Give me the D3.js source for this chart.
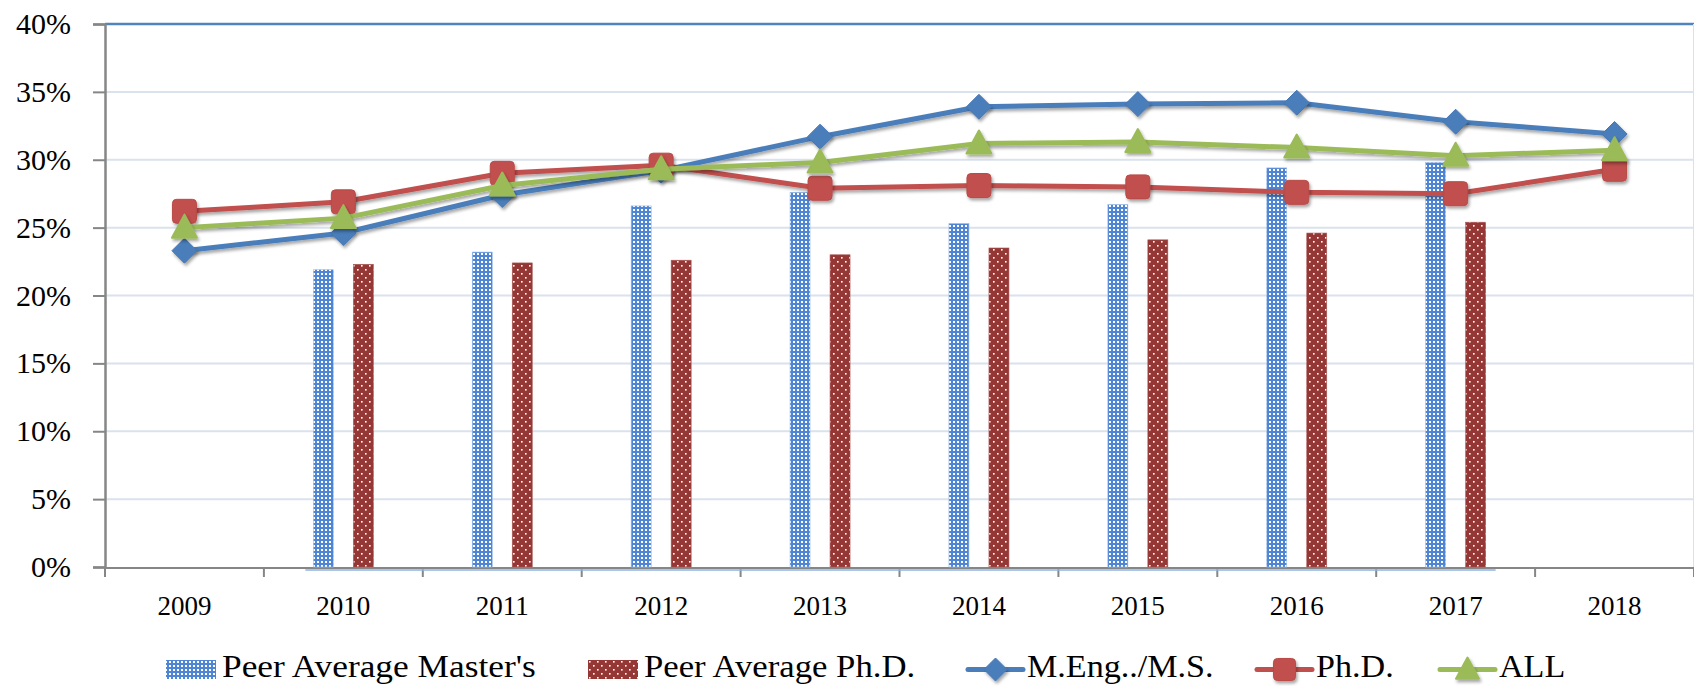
<!DOCTYPE html>
<html>
<head>
<meta charset="utf-8">
<script src="https://cdn.jsdelivr.net/npm/d3@7"></script>
<style>
html,body{margin:0;padding:0;background:#fff;}
svg{display:block;}
.serif{font-family:"Liberation Serif","Times New Roman",serif !important;}
</style>
</head>
<body>
<svg id="chart" width="1694" height="686" font-family="Liberation Serif, Times New Roman, serif"></svg>
<script>
// ---- data ----
const years = ["2009","2010","2011","2012","2013","2014","2015","2016","2017","2018"];
const peerMasters = [null, 21.9, 23.2, 26.6, 27.6, 25.3, 26.7, 29.4, 29.8, null];
const peerPhD     = [null, 22.3, 22.4, 22.6, 23.0, 23.5, 24.1, 24.6, 25.4, null];
const mengMS      = [23.3, 24.6, 27.4, 29.2, 31.7, 33.9, 34.1, 34.2, 32.8, 31.9];
const phdLine     = [26.2, 26.9, 29.0, 29.6, 27.9, 28.1, 28.0, 27.6, 27.5, 29.3];
const allLine     = [25.0, 25.7, 28.1, 29.3, 29.8, 31.2, 31.3, 30.9, 30.3, 30.7];
const yTicks = [0, 5, 10, 15, 20, 25, 30, 35, 40];
const seriesNames = ["Peer Average Master's", "Peer Average Ph.D.", "M.Eng../M.S.", "Ph.D.", "ALL"];

// ---- layout ----
const L = 105, R = 1694, T = 24, B = 567;
const FONT = "Liberation Serif";
const svg = d3.select("#chart");
const defs = svg.append("defs");

// patterns
const pm = defs.append("pattern").attr("id","patM").attr("patternUnits","userSpaceOnUse")
  .attr("width",4).attr("height",4);
pm.append("rect").attr("width",4).attr("height",4).attr("fill","#4f86d4");
pm.append("rect").attr("x",1).attr("y",1).attr("width",2).attr("height",2).attr("fill","#ffffff");

const pp = defs.append("pattern").attr("id","patP").attr("patternUnits","userSpaceOnUse")
  .attr("width",8).attr("height",8);
pp.append("rect").attr("width",8).attr("height",8).attr("fill","#953735");
pp.append("rect").attr("x",1).attr("y",1).attr("width",1.6).attr("height",1.6).attr("fill","#ffffff");
pp.append("rect").attr("x",5).attr("y",5).attr("width",1.6).attr("height",1.6).attr("fill","#ffffff");

const sh = defs.append("filter").attr("id","shadow").attr("x","-50%").attr("y","-50%").attr("width","200%").attr("height","200%");
sh.append("feDropShadow").attr("dx",1.5).attr("dy",2.5).attr("stdDeviation",1.8)
  .attr("flood-color","#000").attr("flood-opacity",0.35);

const x = d3.scaleBand().domain(years).range([L, R]).padding(0);
const y = d3.scaleLinear().domain([0, 40]).range([B, T]);
const cx = d => x(d) + x.bandwidth()/2;

// gridlines
svg.append("g").selectAll("line").data(yTicks.filter(v => v > 0 && v < 40)).join("line")
  .attr("x1", L).attr("x2", R).attr("y1", d => y(d)).attr("y2", d => y(d))
  .attr("stroke", "#d9e2ed").attr("stroke-width", 2);
// top line (40%)
svg.append("line").attr("x1", L).attr("x2", R).attr("y1", y(40)).attr("y2", y(40))
  .attr("stroke", "#5084bf").attr("stroke-width", 2.5);
// right border
svg.append("line").attr("x1", 1693.5).attr("x2", 1693.5).attr("y1", y(40)).attr("y2", B)
  .attr("stroke", "#d9e1ea").attr("stroke-width", 1);

// y axis (ticks + domain via d3.axis, labels drawn as plain serif text)
const yAxis = d3.axisLeft(y).tickValues(yTicks).tickFormat("").tickSize(12);
const gy = svg.append("g").attr("transform", `translate(${L},0)`).call(yAxis);
gy.select(".domain").attr("stroke", "#868686").attr("stroke-width", 2.5);
gy.selectAll(".tick line").attr("stroke", "#868686").attr("stroke-width", 2);
gy.selectAll(".tick text").remove();
svg.append("g").selectAll("text").data(yTicks).join("text")
  .attr("class", "serif")
  .attr("x", 71).attr("y", d => y(d) + 10).attr("text-anchor", "end")
  .attr("font-family", FONT).attr("font-size", 30).attr("fill", "#000")
  .text(d => d + "%");

// x axis
const xTickPos = d3.range(years.length + 1).map(i => L + i * x.bandwidth());
svg.append("line").attr("x1", L).attr("x2", R).attr("y1", B + 1).attr("y2", B + 1)
  .attr("stroke", "#868686").attr("stroke-width", 2.2);
svg.append("g").selectAll("line").data(xTickPos).join("line")
  .attr("x1", d => d).attr("x2", d => d).attr("y1", B).attr("y2", B + 10)
  .attr("stroke", "#868686").attr("stroke-width", 2);
svg.append("g").selectAll("text").data(years).join("text")
  .attr("class", "serif")
  .attr("x", d => cx(d)).attr("y", 615).attr("text-anchor", "middle")
  .attr("font-family", FONT).attr("font-size", 27).attr("fill", "#000").text(d => d);

// bars
const bw = 20, off = 20;
const barIdx = years.map((d, i) => i).filter(i => peerMasters[i] != null);
svg.append("line")
  .attr("x1", cx(years[barIdx[0]]) - off - bw/2 - 8)
  .attr("x2", cx(years[barIdx[barIdx.length-1]]) + off + bw/2 + 10)
  .attr("y1", B + 3).attr("y2", B + 3).attr("stroke", "#8db3e2").attr("stroke-width", 1.5);

svg.append("g").selectAll("rect").data(barIdx).join("rect")
  .attr("x", i => cx(years[i]) - off - bw/2).attr("width", bw)
  .attr("y", i => y(peerMasters[i])).attr("height", i => B - y(peerMasters[i]))
  .attr("fill", "url(#patM)").attr("stroke", "#9cbde8").attr("stroke-width", 0.6);
svg.append("g").selectAll("rect").data(barIdx.filter(i => peerPhD[i] != null)).join("rect")
  .attr("x", i => cx(years[i]) + off - bw/2).attr("width", bw)
  .attr("y", i => y(peerPhD[i])).attr("height", i => B - y(peerPhD[i]))
  .attr("fill", "url(#patP)").attr("stroke", "#a85a58").attr("stroke-width", 0.6);

// marker shapes
function drawMarker(g, type, color, px, py, s) {
  s = s || 1;
  if (type === "diamond") {
    const r = 12.5 * s;
    g.append("path").attr("d", `M${px},${py-r}L${px+r},${py}L${px},${py+r}L${px-r},${py}Z`)
      .attr("fill", color).attr("stroke", "#4677b4").attr("stroke-width", 1).attr("filter", "url(#shadow)");
  } else if (type === "square") {
    const h = 12 * s;
    g.append("rect").attr("x", px-h).attr("y", py-h).attr("width", 2*h).attr("height", 2*h).attr("rx", 4)
      .attr("fill", color).attr("stroke", "#b84a47").attr("stroke-width", 1).attr("filter", "url(#shadow)");
  } else {
    g.append("path").attr("d", `M${px},${py-13*s}L${px+12.5*s},${py+10*s}L${px-12.5*s},${py+10*s}Z`)
      .attr("fill", color).attr("stroke", color).attr("stroke-width", 2).attr("stroke-linejoin", "round")
      .attr("filter", "url(#shadow)");
  }
}

const lines = [
  {vals: mengMS, color: "#4a7ebb", type: "diamond"},
  {vals: phdLine, color: "#c0504d", type: "square"},
  {vals: allLine, color: "#9bbb59", type: "triangle"}
];
const lineGen = d3.line().x(d => cx(d.year)).y(d => y(d.v));
lines.forEach(s => {
  const pts = years.map((yr, i) => ({year: yr, v: s.vals[i]}));
  const g = svg.append("g");
  g.append("path").datum(pts).attr("d", lineGen).attr("fill", "none")
    .attr("stroke", s.color).attr("stroke-width", 5).attr("stroke-linejoin", "round").attr("stroke-linecap", "round")
    .attr("filter", "url(#shadow)");
  pts.forEach(p => drawMarker(g, s.type, s.color, cx(p.year), y(p.v)));
});

// legend
const ly = 669.5, lbase = 677;
const lg = svg.append("g");
function legText(tx, label, sx) {
  lg.append("text").attr("class", "serif").attr("transform", `translate(${tx},${lbase}) scale(${sx || 1.1},1)`)
    .attr("font-family", FONT).attr("font-size", 31).attr("fill", "#000").text(label);
}
function legBar(xs, fill, label, sx) {
  lg.append("rect").attr("x", xs).attr("y", ly - 9.5).attr("width", 50).attr("height", 19).attr("fill", fill);
  legText(xs + 56, label, sx);
}
function legLine(xs, s, label) {
  lg.append("line").attr("x1", xs).attr("x2", xs + 55).attr("y1", ly).attr("y2", ly)
    .attr("stroke", s.color).attr("stroke-width", 5).attr("stroke-linecap", "round");
  drawMarker(lg, s.type, s.color, xs + 27.5, ly, 0.92);
  legText(xs + 59, label);
}
legBar(166, "url(#patM)", seriesNames[0], 1.14);
legBar(588, "url(#patP)", seriesNames[1], 1.12);
legLine(968, lines[0], seriesNames[2]);
legLine(1257, lines[1], seriesNames[3]);
legLine(1440, lines[2], seriesNames[4]);
</script>
</body>
</html>
